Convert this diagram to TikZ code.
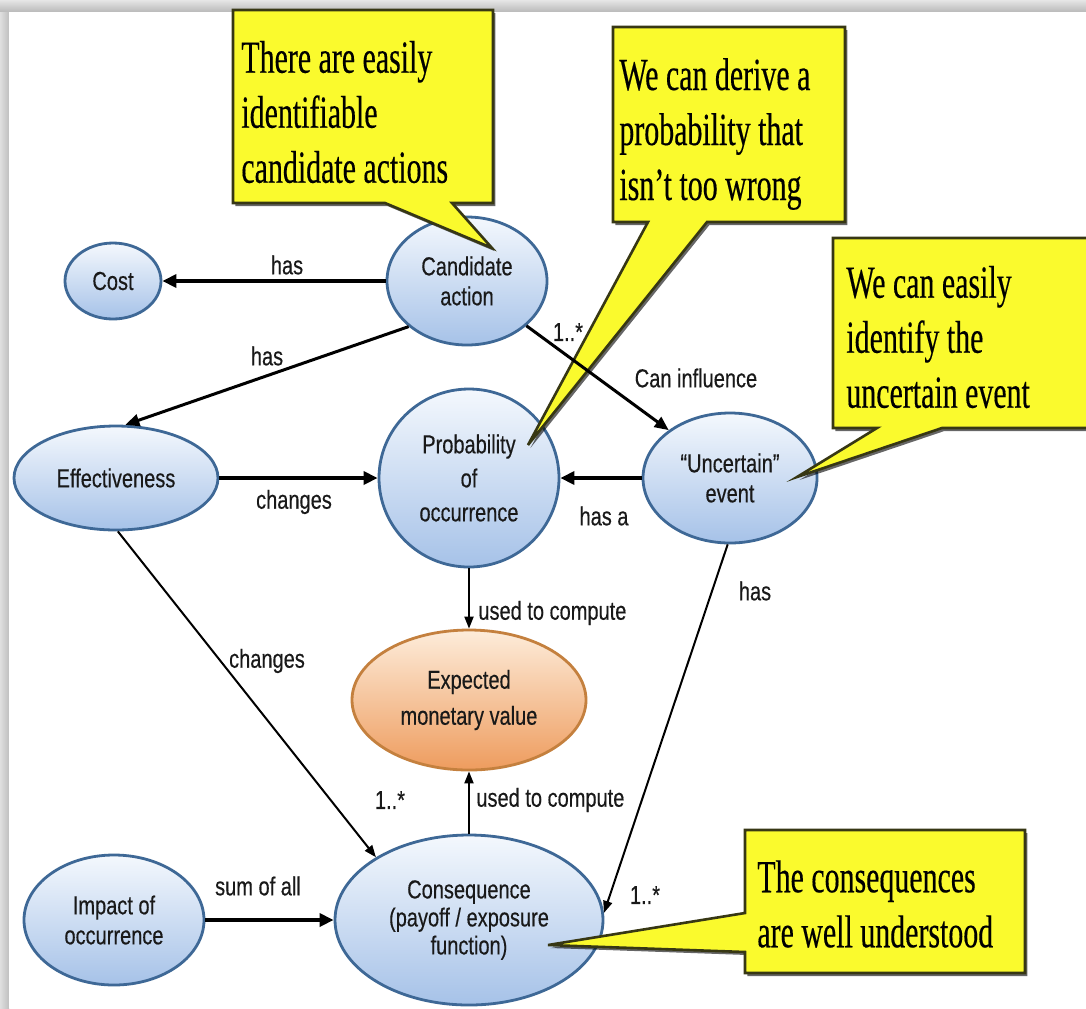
\documentclass[tikz,border=0pt]{standalone}
\usepackage{fontspec}
\usetikzlibrary{shapes.geometric,arrows.meta,shadows}
\newfontfamily\nodefont[FakeStretch=0.77,FakeBold=0.35]{Liberation Sans}
\newfontfamily\callfont[FakeStretch=0.65,FakeBold=0.3]{Liberation Serif}
\definecolor{ellbd}{RGB}{62,104,150}
\definecolor{elltop}{RGB}{244,248,253}
\definecolor{ellbot}{RGB}{166,194,232}
\definecolor{orbd}{RGB}{196,128,62}
\definecolor{ortop}{RGB}{253,236,218}
\definecolor{orbot}{RGB}{238,156,94}
\definecolor{calloutfill}{RGB}{250,250,45}
\definecolor{calloutbd}{RGB}{55,55,20}
\definecolor{txt}{RGB}{25,25,25}
\tikzset{
 ell/.style={ellipse, draw=ellbd, line width=1.4pt, inner sep=0pt, top color=elltop, bottom color=ellbot, text=txt, align=center, font=\nodefont\fontsize{13pt}{15pt}\selectfont},
 orell/.style={ell, draw=orbd, top color=ortop, bottom color=orbot},
 lbl/.style={font=\nodefont\fontsize{13pt}{15pt}\selectfont, text=txt, inner sep=1pt},
 thickarr/.style={line width=2pt, -{Triangle[length=7pt,width=6.5pt]}},
 medarr/.style={line width=1.5pt, -{Triangle[length=7pt,width=6pt]}},
 thinarr/.style={line width=1pt, -{Triangle[length=6pt,width=4.5pt]}},
 callout/.style={fill=calloutfill, draw=calloutbd, line width=1.3pt, drop shadow={shadow xshift=1.2pt, shadow yshift=-1.5pt, opacity=0.6, fill=black}},
 calltext/.style={font=\callfont\fontsize{23pt}{27.5pt}\selectfont, align=left, inner sep=0pt, anchor=west, text=black},
}
\begin{document}
\begin{tikzpicture}[x=0.5pt,y=-0.5pt]
\useasboundingbox (0,0) rectangle (1086,1008);
\begin{scope}
\clip (0,0) rectangle (1086,1008);
% background frame
\fill[top color=gray!20, bottom color=gray!55] (0,0) rectangle (1086,12);
\fill[left color=gray!25, right color=gray!50] (0,12) rectangle (9,1008);
\fill[white] (9,12) rectangle (1086,1008);

% concept nodes
\node[ell, minimum width=48pt, minimum height=38pt] (cost) at (113,281) {Cost};
\node[ell, minimum width=80pt, minimum height=64pt] (cand) at (467,281) {Candidate\\action};
\node[ell, minimum width=102pt, minimum height=52pt] (eff) at (116,478) {Effectiveness};
\node[ell, minimum width=90pt, minimum height=89pt, font=\nodefont\fontsize{13pt}{17pt}\selectfont] (prob) at (469,478) {Probability\\of\\occurrence};
\node[ell, minimum width=87pt, minimum height=65pt] (unc) at (730,478) {“Uncertain”\\event};
\node[orell, minimum width=117pt, minimum height=70pt, font=\nodefont\fontsize{13pt}{18pt}\selectfont] (emv) at (469,700) {Expected\\monetary value};
\node[ell, minimum width=134pt, minimum height=85pt, font=\nodefont\fontsize{13pt}{14pt}\selectfont] (cons) at (469,920) {Consequence\\(payoff / exposure\\function)};
\node[ell, minimum width=90pt, minimum height=65pt] (imp) at (114,920) {Impact of\\occurrence};

% callouts
\path[callout] (233,10) -- (493,10) -- (493,203) -- (452,203) -- (492,248) -- (385,203) -- (233,203) -- cycle;
\node[calltext] (c1) at (241,112) {There are easily\\identifiable\\candidate actions};
\path[callout] (613,27) -- (845,27) -- (845,222) -- (707,222) -- (528,445) -- (648,222) -- (613,222) -- cycle;
\node[calltext] (c2) at (619,134) {We can derive a\\probability that\\isn’t too wrong};
\path[callout] (833,238) -- (1100,238) -- (1100,428) -- (942,428) -- (797,477) -- (877,428) -- (833,428) -- cycle;
\node[calltext] (c3) at (846,337) {We can easily\\identify the\\uncertain event};
\path[callout] (745,830) -- (1025,830) -- (1025,973) -- (745,973) -- (745,952) -- (548,945) -- (745,913) -- cycle;
\node[calltext] (c4) at (757,904) {The consequences\\are well understood};

% connectors
\draw[thickarr] (cand.west) -- (cost.east);
\draw[medarr] (cand.218) -- (eff.80);
\draw[medarr] (cand.-37) -- (unc.142);
\draw[thickarr] (eff.east) -- (prob.west);
\draw[thickarr] (unc.west) -- (prob.east);
\draw[thinarr] (prob.south) -- (emv.north);
\draw[thinarr] (cons.north) -- (emv.south);
\draw[thinarr] (eff.-88) -- (cons.146);
\draw[thinarr] (unc.-92) -- (cons.3);
\draw[thickarr] (imp.east) -- (cons.west);

% connector labels
\node[lbl] (l1) at (287,265) {has};
\node[lbl] (l2) at (267,356) {has};
\node[lbl] (l3) at (568,332) {1..*};
\node[lbl] (l4) at (696,378) {Can influence};
\node[lbl] (l5) at (294,502) {changes};
\node[lbl] (l6) at (604,516) {has a};
\node[lbl, anchor=west] (l7) at (476,613) {used to compute};
\node[lbl] (l8) at (267,661) {changes};
\node[lbl] (l9) at (755,591) {has};
\node[lbl] (l10) at (390,800) {1..*};
\node[lbl, anchor=west] (l11) at (474,800) {used to compute};
\node[lbl] (l12) at (258,886) {sum of all};
\node[lbl] (l13) at (645,895) {1..*};
\end{scope}
\end{tikzpicture}
\end{document}
